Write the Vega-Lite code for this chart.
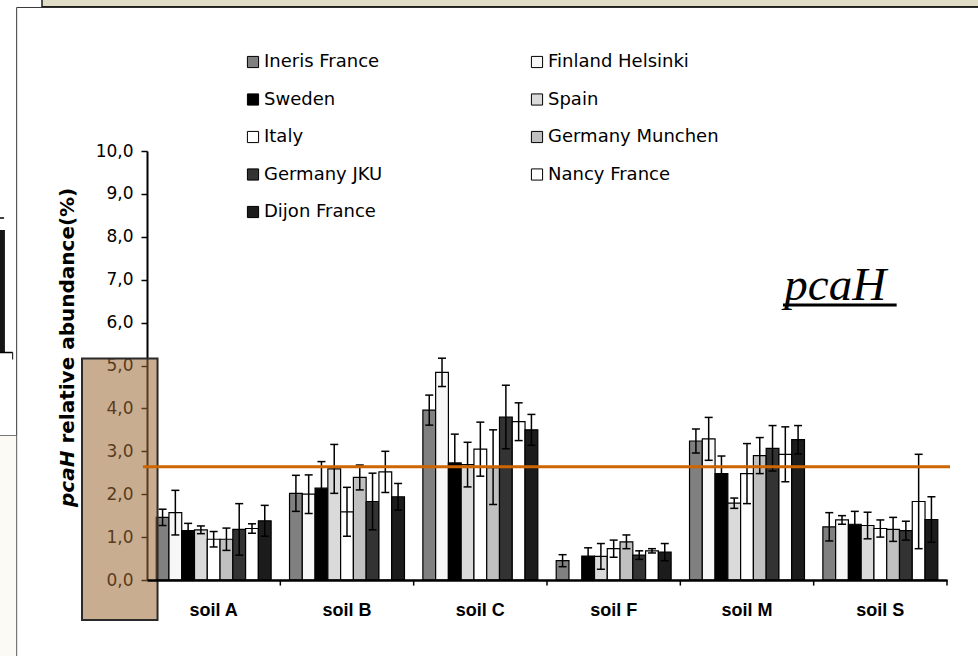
{
  "$schema": "https://vega.github.io/schema/vega-lite/v6.json",
  "width": 800,
  "height": 429,
  "autosize": {"type": "none"},
  "padding": {"left": 147, "top": 151, "right": 31, "bottom": 76},
  "background": "white",
  "config": {"view": {"stroke": null}, "text": {"font": "DejaVu Sans"}},
  "datasets": {
    "abundance": [
      {"soil": "soil A", "lab": "Ineris France", "value": 1.46, "lo": 1.27, "hi": 1.65},
      {"soil": "soil A", "lab": "Finland Helsinki", "value": 1.57, "lo": 1.05, "hi": 2.09},
      {"soil": "soil A", "lab": "Sweden", "value": 1.15, "lo": 0.98, "hi": 1.32},
      {"soil": "soil A", "lab": "Spain", "value": 1.17, "lo": 1.08, "hi": 1.26},
      {"soil": "soil A", "lab": "Italy", "value": 0.95, "lo": 0.77, "hi": 1.13},
      {"soil": "soil A", "lab": "Germany Munchen", "value": 0.95, "lo": 0.69, "hi": 1.21},
      {"soil": "soil A", "lab": "Germany JKU", "value": 1.18, "lo": 0.58, "hi": 1.78},
      {"soil": "soil A", "lab": "Nancy France", "value": 1.2, "lo": 1.09, "hi": 1.31},
      {"soil": "soil A", "lab": "Dijon France", "value": 1.38, "lo": 1.02, "hi": 1.74},
      {"soil": "soil B", "lab": "Ineris France", "value": 2.02, "lo": 1.6, "hi": 2.44},
      {"soil": "soil B", "lab": "Finland Helsinki", "value": 2.0, "lo": 1.55, "hi": 2.45},
      {"soil": "soil B", "lab": "Sweden", "value": 2.14, "lo": 1.52, "hi": 2.76},
      {"soil": "soil B", "lab": "Spain", "value": 2.59, "lo": 2.02, "hi": 3.16},
      {"soil": "soil B", "lab": "Italy", "value": 1.59, "lo": 1.02, "hi": 2.16},
      {"soil": "soil B", "lab": "Germany Munchen", "value": 2.39, "lo": 2.1, "hi": 2.68},
      {"soil": "soil B", "lab": "Germany JKU", "value": 1.83, "lo": 1.17, "hi": 2.49},
      {"soil": "soil B", "lab": "Nancy France", "value": 2.52, "lo": 2.04, "hi": 3.0},
      {"soil": "soil B", "lab": "Dijon France", "value": 1.94, "lo": 1.63, "hi": 2.25},
      {"soil": "soil C", "lab": "Ineris France", "value": 3.96, "lo": 3.61, "hi": 4.31},
      {"soil": "soil C", "lab": "Finland Helsinki", "value": 4.84, "lo": 4.51, "hi": 5.17},
      {"soil": "soil C", "lab": "Sweden", "value": 2.73, "lo": 2.06, "hi": 3.4},
      {"soil": "soil C", "lab": "Spain", "value": 2.69, "lo": 2.17, "hi": 3.21},
      {"soil": "soil C", "lab": "Italy", "value": 3.05, "lo": 2.42, "hi": 3.68},
      {"soil": "soil C", "lab": "Germany Munchen", "value": 2.62, "lo": 1.76, "hi": 3.5},
      {"soil": "soil C", "lab": "Germany JKU", "value": 3.8, "lo": 3.06, "hi": 4.54},
      {"soil": "soil C", "lab": "Nancy France", "value": 3.69, "lo": 3.25, "hi": 4.13},
      {"soil": "soil C", "lab": "Dijon France", "value": 3.5, "lo": 3.14, "hi": 3.86},
      {"soil": "soil F", "lab": "Ineris France", "value": 0.45, "lo": 0.31, "hi": 0.59},
      {"soil": "soil F", "lab": "Sweden", "value": 0.56, "lo": 0.37, "hi": 0.75},
      {"soil": "soil F", "lab": "Spain", "value": 0.55, "lo": 0.25, "hi": 0.85},
      {"soil": "soil F", "lab": "Italy", "value": 0.73, "lo": 0.53, "hi": 0.93},
      {"soil": "soil F", "lab": "Germany Munchen", "value": 0.89, "lo": 0.73, "hi": 1.05},
      {"soil": "soil F", "lab": "Germany JKU", "value": 0.58, "lo": 0.48, "hi": 0.68},
      {"soil": "soil F", "lab": "Nancy France", "value": 0.68, "lo": 0.63, "hi": 0.73},
      {"soil": "soil F", "lab": "Dijon France", "value": 0.65, "lo": 0.45, "hi": 0.85},
      {"soil": "soil M", "lab": "Ineris France", "value": 3.24, "lo": 2.96, "hi": 3.52},
      {"soil": "soil M", "lab": "Finland Helsinki", "value": 3.29, "lo": 2.79, "hi": 3.79},
      {"soil": "soil M", "lab": "Sweden", "value": 2.48, "lo": 2.07, "hi": 2.89},
      {"soil": "soil M", "lab": "Spain", "value": 1.79, "lo": 1.67, "hi": 1.91},
      {"soil": "soil M", "lab": "Italy", "value": 2.48, "lo": 1.78, "hi": 3.18},
      {"soil": "soil M", "lab": "Germany Munchen", "value": 2.9, "lo": 2.48, "hi": 3.32},
      {"soil": "soil M", "lab": "Germany JKU", "value": 3.07, "lo": 2.54, "hi": 3.6},
      {"soil": "soil M", "lab": "Nancy France", "value": 2.93, "lo": 2.29, "hi": 3.57},
      {"soil": "soil M", "lab": "Dijon France", "value": 3.27, "lo": 2.94, "hi": 3.6},
      {"soil": "soil S", "lab": "Ineris France", "value": 1.24, "lo": 0.91, "hi": 1.57},
      {"soil": "soil S", "lab": "Finland Helsinki", "value": 1.4, "lo": 1.3, "hi": 1.5},
      {"soil": "soil S", "lab": "Sweden", "value": 1.3, "lo": 1.0, "hi": 1.6},
      {"soil": "soil S", "lab": "Spain", "value": 1.27, "lo": 0.96, "hi": 1.58},
      {"soil": "soil S", "lab": "Italy", "value": 1.2, "lo": 1.0, "hi": 1.4},
      {"soil": "soil S", "lab": "Germany Munchen", "value": 1.18, "lo": 0.9, "hi": 1.46},
      {"soil": "soil S", "lab": "Germany JKU", "value": 1.15, "lo": 0.93, "hi": 1.37},
      {"soil": "soil S", "lab": "Nancy France", "value": 1.83, "lo": 0.73, "hi": 2.93},
      {"soil": "soil S", "lab": "Dijon France", "value": 1.41, "lo": 0.88, "hi": 1.94}
    ],
    "soilEdges": [{"edge": 1}, {"edge": 2}, {"edge": 3}, {"edge": 4}, {"edge": 5}, {"edge": 6}]
  },
  "layer": [
    {
      "data": {"values": [{}]},
      "layer": [
        {
          "mark": {"type": "rect", "fill": null, "stroke": "#3a3a3a", "strokeWidth": 1},
          "encoding": {
            "x": {"datum": -0.9775, "type": "quantitative", "scale": {"domain": [0, 6], "nice": false, "zero": false}, "axis": null},
            "x2": {"datum": 6.5},
            "y": {"datum": 13.345, "type": "quantitative", "scale": {"domain": [0, 10], "nice": false, "zero": false}},
            "y2": {"datum": -2.5}
          }
        },
        {
          "mark": {"type": "rect", "fill": "#fbfaf4"},
          "encoding": {
            "x": {"datum": -1.2, "type": "quantitative", "scale": {"domain": [0, 6], "nice": false, "zero": false}, "axis": null},
            "x2": {"datum": -0.981},
            "y": {"datum": 3.357, "type": "quantitative", "scale": {"domain": [0, 10], "nice": false, "zero": false}},
            "y2": {"datum": -2.5}
          }
        },
        {
          "mark": {"type": "rule", "stroke": "#777777", "strokeWidth": 1},
          "encoding": {
            "x": {"datum": -1.2, "type": "quantitative", "scale": {"domain": [0, 6], "nice": false, "zero": false}, "axis": null},
            "x2": {"datum": -0.9775},
            "y": {"datum": 3.368, "type": "quantitative", "scale": {"domain": [0, 10], "nice": false, "zero": false}}
          }
        },
        {
          "mark": {"type": "rect", "fill": "#e0dcc6", "stroke": "#1e1e1e", "strokeWidth": 1.5},
          "encoding": {
            "x": {"datum": -0.7875, "type": "quantitative", "scale": {"domain": [0, 6], "nice": false, "zero": false}, "axis": null},
            "x2": {"datum": 6.5},
            "y": {"datum": 13.36, "type": "quantitative", "scale": {"domain": [0, 10], "nice": false, "zero": false}},
            "y2": {"datum": 14.2}
          }
        },
        {
          "mark": {"type": "rect", "fill": "#161616"},
          "encoding": {
            "x": {"datum": -1.2, "type": "quantitative", "scale": {"domain": [0, 6], "nice": false, "zero": false}, "axis": null},
            "x2": {"datum": -1.0655},
            "y": {"datum": 5.315, "type": "quantitative", "scale": {"domain": [0, 10], "nice": false, "zero": false}},
            "y2": {"datum": 8.159}
          }
        },
        {
          "mark": {"type": "rule", "stroke": "black", "strokeWidth": 1.5},
          "encoding": {
            "x": {"datum": -1.2, "type": "quantitative", "scale": {"domain": [0, 6], "nice": false, "zero": false}, "axis": null},
            "x2": {"datum": -1.0075},
            "y": {"datum": 5.303, "type": "quantitative", "scale": {"domain": [0, 10], "nice": false, "zero": false}}
          }
        },
        {
          "mark": {"type": "rule", "stroke": "black", "strokeWidth": 1},
          "encoding": {
            "x": {"datum": -1.0075, "type": "quantitative", "scale": {"domain": [0, 6], "nice": false, "zero": false}, "axis": null},
            "y": {"datum": 5.303, "type": "quantitative", "scale": {"domain": [0, 10], "nice": false, "zero": false}},
            "y2": {"datum": 5.14}
          }
        },
        {
          "mark": {"type": "rule", "stroke": "black", "strokeWidth": 1.5},
          "encoding": {
            "x": {"datum": -1.2, "type": "quantitative", "scale": {"domain": [0, 6], "nice": false, "zero": false}, "axis": null},
            "x2": {"datum": -1.072},
            "y": {"datum": 8.438, "type": "quantitative", "scale": {"domain": [0, 10], "nice": false, "zero": false}}
          }
        }
      ]
    },
    {
      "data": {"name": "abundance"},
      "encoding": {
        "x": {
          "field": "soil", "type": "nominal",
          "sort": ["soil A", "soil B", "soil C", "soil F", "soil M", "soil S"],
          "scale": {"paddingInner": 0, "paddingOuter": 0},
          "axis": {
            "title": null, "labelAngle": 0, "labelFont": "Liberation Sans", "labelFontWeight": "bold",
            "labelFontSize": 18, "labelColor": "black", "labelPadding": 21, "ticks": false, "tickSize": 0,
            "domainColor": "black", "domainWidth": 2.5, "zindex": 1
          }
        },
        "xOffset": {
          "field": "lab", "type": "nominal",
          "scale": {
            "domain": ["Ineris France", "Finland Helsinki", "Sweden", "Spain", "Italy", "Germany Munchen", "Germany JKU", "Nancy France", "Dijon France"],
            "paddingInner": 0, "paddingOuter": 0.72
          }
        },
        "y": {
          "field": "value", "type": "quantitative",
          "scale": {"domain": [0, 10], "nice": false, "zero": false},
          "axis": {
            "title": null, "orient": "left", "values": [0, 1, 2, 3, 4, 5, 6, 7, 8, 9, 10],
            "labelExpr": "replace(format(datum.value, '.1f'), '.', ',')",
            "labelFont": "DejaVu Sans", "labelFontSize": 17, "labelColor": "black", "labelPadding": 8,
            "tickColor": "black", "tickWidth": 1.5, "tickSize": 6,
            "domainColor": "black", "domainWidth": 2, "grid": false, "zindex": 0
          }
        }
      },
      "layer": [
        {
          "mark": {"type": "bar", "stroke": "black", "strokeWidth": 1.2},
          "encoding": {
            "color": {
              "field": "lab", "type": "nominal",
              "scale": {
                "domain": ["Ineris France", "Finland Helsinki", "Sweden", "Spain", "Italy", "Germany Munchen", "Germany JKU", "Nancy France", "Dijon France"],
                "range": ["#808080", "#f7f7f7", "#000000", "#dadada", "#ffffff", "#c0c0c0", "#333333", "#ffffff", "#1c1c1c"]
              },
              "legend": {
                "title": null, "orient": "none", "legendX": 97, "legendY": -98, "columns": 2,
                "values": ["Ineris France", "Sweden", "Italy", "Germany JKU", "Dijon France", "Finland Helsinki", "Spain", "Germany Munchen", "Nancy France"],
                "columnPadding": 145, "rowPadding": 19.5, "padding": 0, "labelLimit": 400,
                "symbolType": "square", "symbolSize": 125, "symbolStrokeColor": "black", "symbolStrokeWidth": 1,
                "labelFont": "DejaVu Sans", "labelFontSize": 18, "labelColor": "black", "labelOffset": 2
              }
            }
          }
        },
        {
          "mark": {"type": "rule", "stroke": "black", "strokeWidth": 1.5},
          "encoding": {
            "y": {"field": "lo", "type": "quantitative"},
            "y2": {"field": "hi"}
          }
        },
        {
          "mark": {"type": "tick", "orient": "horizontal", "size": 8, "thickness": 1.5, "color": "black", "opacity": 1},
          "encoding": {
            "y": {"field": "lo", "type": "quantitative"}
          }
        },
        {
          "mark": {"type": "tick", "orient": "horizontal", "size": 8, "thickness": 1.5, "color": "black", "opacity": 1},
          "encoding": {
            "y": {"field": "hi", "type": "quantitative"}
          }
        }
      ]
    },
    {
      "data": {"values": [{}]},
      "layer": [
        {
          "mark": {"type": "rect", "fill": "#9d6a35", "fillOpacity": 0.55, "stroke": "#2a2a2a", "strokeWidth": 2},
          "encoding": {
            "x": {"datum": -0.4875, "type": "quantitative", "scale": {"domain": [0, 6], "nice": false, "zero": false}, "axis": null},
            "x2": {"datum": 0.079},
            "y": {"datum": 5.163, "type": "quantitative", "scale": {"domain": [0, 10], "nice": false, "zero": false}},
            "y2": {"datum": -0.932}
          }
        },
        {
          "mark": {"type": "rule", "stroke": "#cc6600", "strokeWidth": 3},
          "encoding": {
            "x": {"datum": -0.03, "type": "quantitative", "scale": {"domain": [0, 6], "nice": false, "zero": false}, "axis": null},
            "x2": {"datum": 6.0225},
            "y": {"datum": 2.641, "type": "quantitative", "scale": {"domain": [0, 10], "nice": false, "zero": false}}
          }
        },
        {
          "data": {"name": "soilEdges"},
          "mark": {"type": "rule", "stroke": "black", "strokeWidth": 1.5},
          "encoding": {
            "x": {"field": "edge", "type": "quantitative", "scale": {"domain": [0, 6], "nice": false, "zero": false}, "axis": null},
            "y": {"datum": 0, "type": "quantitative", "scale": {"domain": [0, 10], "nice": false, "zero": false}},
            "y2": {"datum": -0.13}
          }
        },
        {
          "mark": {"type": "text", "text": "pcaH", "font": "Liberation Serif", "fontStyle": "italic", "fontSize": 47, "align": "left", "baseline": "alphabetic", "color": "black"},
          "encoding": {
            "x": {"datum": 4.78, "type": "quantitative", "scale": {"domain": [0, 6], "nice": false, "zero": false}, "axis": null},
            "y": {"datum": 6.527, "type": "quantitative", "scale": {"domain": [0, 10], "nice": false, "zero": false}}
          }
        },
        {
          "mark": {"type": "rule", "stroke": "black", "strokeWidth": 3},
          "encoding": {
            "x": {"datum": 4.77, "type": "quantitative", "scale": {"domain": [0, 6], "nice": false, "zero": false}, "axis": null},
            "x2": {"datum": 5.6225},
            "y": {"datum": 6.41, "type": "quantitative", "scale": {"domain": [0, 10], "nice": false, "zero": false}}
          }
        },
        {
          "mark": {"type": "text", "text": "pcaH", "font": "DejaVu Sans", "fontWeight": "bold", "fontStyle": "italic", "fontSize": 20, "angle": 270, "align": "left", "baseline": "middle", "color": "black"},
          "encoding": {
            "x": {"datum": -0.5925, "type": "quantitative", "scale": {"domain": [0, 6], "nice": false, "zero": false}, "axis": null},
            "y": {"datum": 1.702, "type": "quantitative", "scale": {"domain": [0, 10], "nice": false, "zero": false}}
          }
        },
        {
          "mark": {"type": "text", "text": "relative abundance(%)", "font": "DejaVu Sans", "fontWeight": "bold", "fontSize": 20, "angle": 270, "align": "left", "baseline": "middle", "color": "black"},
          "encoding": {
            "x": {"datum": -0.5925, "type": "quantitative", "scale": {"domain": [0, 6], "nice": false, "zero": false}, "axis": null},
            "y": {"datum": 3.18, "type": "quantitative", "scale": {"domain": [0, 10], "nice": false, "zero": false}}
          }
        }
      ]
    }
  ],
  "resolve": {"scale": {"x": "independent"}}
}
